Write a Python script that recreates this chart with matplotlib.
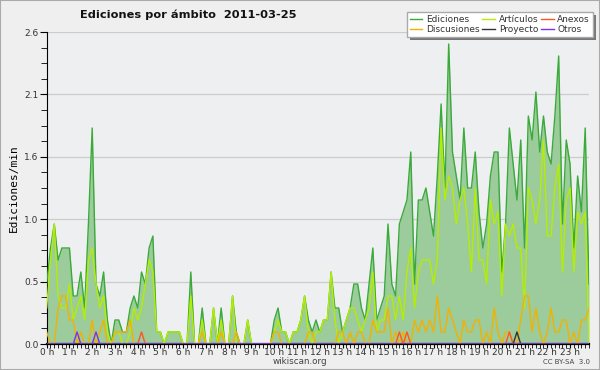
import matplotlib
matplotlib.use("Agg")
import matplotlib.pyplot as plt
from matplotlib.ticker import MultipleLocator, FixedLocator
from matplotlib.patches import Rectangle
import numpy as np

title = "Ediciones por ámbito  2011-03-25"
hour_labels = [f"{h} h" for h in range(24)]

ediciones = [0.5, 0.8, 1.0, 0.7, 0.8, 0.8, 0.8, 0.4, 0.4, 0.6,
             0.3, 1.0, 1.8, 0.5, 0.4, 0.6, 0.2, 0.0, 0.2, 0.2,
             0.1, 0.1, 0.3, 0.4, 0.3, 0.6, 0.5, 0.8, 0.9, 0.1,
             0.1, 0.0, 0.1, 0.1, 0.1, 0.1, 0.0, 0.0, 0.6, 0.0,
             0.0, 0.3, 0.0, 0.0, 0.3, 0.0, 0.3, 0.0, 0.0, 0.4,
             0.1, 0.0, 0.0, 0.2, 0.0, 0.0, 0.0, 0.0, 0.0, 0.0,
             0.2, 0.3, 0.1, 0.1, 0.0, 0.1, 0.1, 0.2, 0.4, 0.2,
             0.1, 0.2, 0.1, 0.2, 0.2, 0.6, 0.3, 0.3, 0.1, 0.2,
             0.3, 0.5, 0.5, 0.3, 0.2, 0.5, 0.8, 0.2, 0.3, 0.4,
             1.0, 0.5, 0.4, 1.0, 1.1, 1.2, 1.6, 0.5, 1.2, 1.2,
             1.3, 1.1, 0.9, 1.4, 2.0, 1.3, 2.5, 1.6, 1.4, 1.2,
             1.8, 1.3, 1.3, 1.6, 1.1, 0.8, 1.0, 1.4, 1.6, 1.6,
             0.6, 1.0, 1.8, 1.5, 1.2, 1.7, 0.8, 1.9, 1.7, 2.1,
             1.6, 1.9, 1.6, 1.5, 1.9, 2.4, 1.0, 1.7, 1.5, 0.8,
             1.4, 1.1, 1.8, 0.5]

articulos = [0.3, 0.7, 1.0, 0.4, 0.3, 0.3, 0.5, 0.2, 0.3, 0.4,
             0.2, 0.7, 0.8, 0.5, 0.3, 0.4, 0.1, 0.0, 0.1, 0.1,
             0.0, 0.0, 0.1, 0.3, 0.2, 0.3, 0.5, 0.7, 0.6, 0.1,
             0.1, 0.0, 0.1, 0.1, 0.1, 0.1, 0.0, 0.0, 0.4, 0.0,
             0.0, 0.2, 0.0, 0.0, 0.3, 0.0, 0.2, 0.0, 0.0, 0.4,
             0.0, 0.0, 0.0, 0.2, 0.0, 0.0, 0.0, 0.0, 0.0, 0.0,
             0.1, 0.2, 0.1, 0.1, 0.0, 0.1, 0.1, 0.2, 0.4, 0.1,
             0.0, 0.1, 0.1, 0.2, 0.2, 0.6, 0.2, 0.0, 0.1, 0.2,
             0.3, 0.3, 0.2, 0.1, 0.2, 0.3, 0.6, 0.1, 0.2, 0.2,
             0.4, 0.4, 0.2, 0.4, 0.2, 0.6, 0.8, 0.3, 0.6, 0.7,
             0.7, 0.7, 0.5, 0.7, 1.8, 1.2, 1.4, 1.3, 1.0, 1.2,
             1.3, 1.0, 0.6, 1.3, 0.7, 0.7, 0.5, 1.2, 1.0, 1.1,
             0.4, 1.0, 0.9, 1.0, 0.8, 0.8, 0.3, 1.3, 1.2, 1.0,
             1.2, 1.7, 0.9, 0.9, 1.3, 1.5, 0.6, 1.2, 1.3, 0.6,
             1.1, 1.0, 1.1, 0.0]

discusiones = [0.1, 0.0, 0.0, 0.3, 0.4, 0.4, 0.2, 0.2, 0.0, 0.1,
               0.0, 0.0, 0.2, 0.0, 0.1, 0.2, 0.0, 0.0, 0.1, 0.1,
               0.1, 0.1, 0.2, 0.0, 0.0, 0.0, 0.0, 0.0, 0.0, 0.0,
               0.0, 0.0, 0.0, 0.0, 0.0, 0.0, 0.0, 0.0, 0.0, 0.0,
               0.0, 0.1, 0.0, 0.0, 0.0, 0.0, 0.1, 0.0, 0.0, 0.0,
               0.1, 0.0, 0.0, 0.0, 0.0, 0.0, 0.0, 0.0, 0.0, 0.0,
               0.1, 0.1, 0.0, 0.0, 0.0, 0.0, 0.0, 0.0, 0.0, 0.1,
               0.1, 0.0, 0.0, 0.0, 0.0, 0.0, 0.0, 0.1, 0.1, 0.0,
               0.1, 0.0, 0.1, 0.1, 0.0, 0.0, 0.2, 0.1, 0.1, 0.1,
               0.3, 0.0, 0.1, 0.0, 0.1, 0.0, 0.0, 0.2, 0.1, 0.2,
               0.1, 0.2, 0.1, 0.4, 0.1, 0.1, 0.3, 0.2, 0.1, 0.0,
               0.2, 0.1, 0.1, 0.2, 0.2, 0.0, 0.1, 0.0, 0.3, 0.1,
               0.0, 0.1, 0.1, 0.0, 0.0, 0.2, 0.4, 0.4, 0.1, 0.3,
               0.1, 0.0, 0.1, 0.3, 0.1, 0.1, 0.2, 0.2, 0.0, 0.1,
               0.0, 0.2, 0.2, 0.3]

n_bins = len(ediciones)
anexos = [0.0] * n_bins
for i in (25, 93, 95, 122):
    anexos[i] = 0.1
proyecto = [0.0] * n_bins
proyecto[124] = 0.1
otros = [0.0] * n_bins
for i in (8, 13):
    otros[i] = 0.1

x = np.arange(n_bins)

fig = plt.figure(figsize=(6.0, 3.7), dpi=100)
fig.patch.set_facecolor("#efefef")
ax = fig.add_axes([46.7 / 600, 26 / 370, (589 - 46.7) / 600, 312 / 370])
ax.set_facecolor("#eeeff1")

ymax = 2.6
ax.set_ylim(0, ymax)
ax.set_xlim(0, n_bins - 1)
major = [ymax * k / 5 for k in range(6)]
ax.yaxis.set_major_locator(FixedLocator(major))
ax.yaxis.set_minor_locator(FixedLocator([ymax * k / 20 for k in range(21)]))
ax.set_yticklabels([f"{v:.1f}" for v in major])
ax.grid(axis="y", which="major", color="#cccccc", linewidth=0.9)
ax.set_axisbelow(True)

ax.set_xticks(np.arange(0, n_bins, 6))
ax.set_xticklabels(hour_labels)
ax.xaxis.set_minor_locator(MultipleLocator(1))

ax.fill_between(x, ediciones, 0, color="#9ccb9c", linewidth=0, zorder=2)
l_ed, = ax.plot(x, ediciones, color="#3aaa3a", lw=1.0, zorder=3, label="Ediciones")
l_ar, = ax.plot(x, articulos, color="#b4ee00", lw=1.0, zorder=4, label="Artículos")
l_di, = ax.plot(x, discusiones, color="#f2b200", lw=1.0, zorder=5, label="Discusiones")
l_an, = ax.plot(x, anexos, color="#ff5522", lw=1.0, zorder=6, label="Anexos")
l_pr, = ax.plot(x, proyecto, color="#333333", lw=1.0, zorder=6, label="Proyecto")
l_ot, = ax.plot(x, otros, color="#7733ee", lw=1.0, zorder=6, label="Otros")

for s in ("top", "right"):
    ax.spines[s].set_visible(False)
ax.spines["left"].set_color("black")
ax.spines["bottom"].set_color("black")
ax.spines["bottom"].set_linewidth(1.6)
ax.tick_params(axis="y", which="major", length=5, labelsize=6.5, colors="black", labelcolor="#333333", pad=1)
ax.tick_params(axis="y", which="minor", length=4, colors="black")
ax.tick_params(axis="x", which="major", length=3, labelsize=6.5, labelcolor="#333333", pad=0)
ax.tick_params(axis="x", which="minor", length=3)

ax.set_ylabel("Ediciones/min", fontsize=8, family="DejaVu Sans Mono", labelpad=4)

fig.text(188 / 600, 1 - 15 / 370, title, ha="center", va="center",
         fontsize=8.2, fontweight="bold", color="#111111")
fig.text(300 / 600, 1 - 362 / 370, "wikiscan.org", ha="center", va="center",
         fontsize=6.3, color="#444444")
fig.text(590 / 600, 1 - 362 / 370, "CC BY-SA  3.0", ha="right", va="center",
         fontsize=5, color="#444444")

# legend with shadow
leg = fig.legend(handles=[l_ed, l_di, l_ar, l_pr, l_an, l_ot], ncol=3,
                 loc="upper right", bbox_to_anchor=(593 / 600, 1 - 12 / 370),
                 fontsize=6.5, frameon=True, fancybox=False, handlelength=1.4,
                 handletextpad=0.4, columnspacing=0.3, labelspacing=0.1,
                 borderpad=0.35, borderaxespad=0)
leg.get_frame().set_edgecolor("#aaaaaa")
leg.get_frame().set_facecolor("white")
leg.get_frame().set_alpha(1)
leg.set_zorder(10)
for t in leg.get_texts():
    t.set_color("#333333")

fig.canvas.draw()
bb = leg.get_window_extent().transformed(fig.transFigure.inverted())
fig.patches.append(Rectangle((bb.x0 + 3 / 600, bb.y0 - 3 / 370), bb.width, bb.height,
                             transform=fig.transFigure, facecolor="#777777",
                             edgecolor="none", zorder=9))

fig.patches.append(Rectangle((0, 0), 1, 1, transform=fig.transFigure, fill=False,
                             edgecolor="#aaaaaa", linewidth=1.5, zorder=20))

fig.savefig("out.png", dpi=100, facecolor=fig.get_facecolor())
